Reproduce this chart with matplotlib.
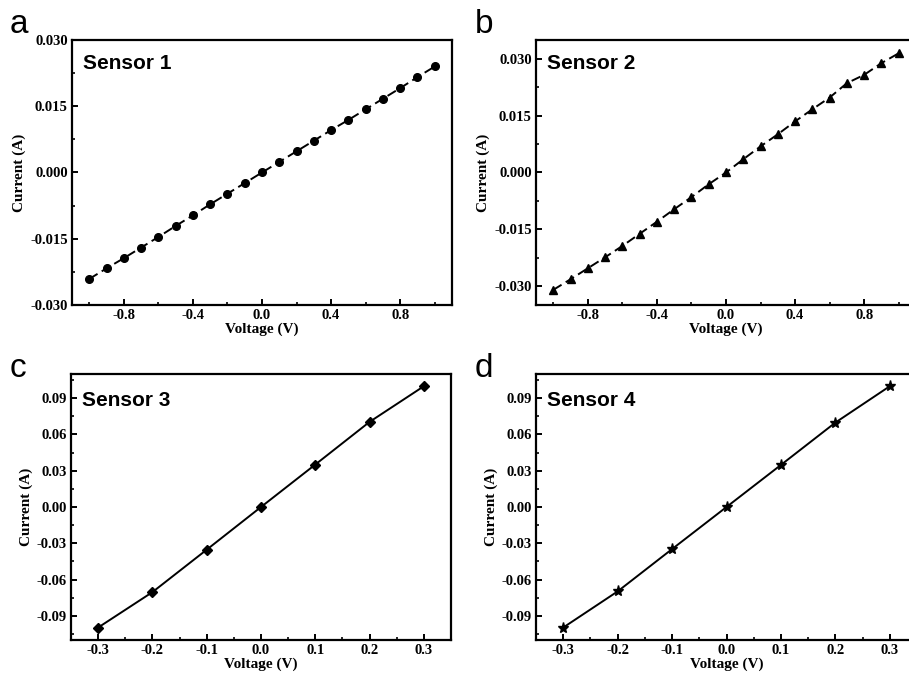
import matplotlib
matplotlib.use("Agg")
import matplotlib.pyplot as plt
from matplotlib.ticker import MultipleLocator, FormatStrFormatter

plt.rcParams['axes.unicode_minus'] = False

# ---- data ----
v_wide = [-1.0, -0.9, -0.8, -0.7, -0.6, -0.5, -0.4, -0.3, -0.2, -0.1, 0.0,
          0.1, 0.2, 0.3, 0.4, 0.5, 0.6, 0.7, 0.8, 0.9, 1.0]
i_sensor1 = [-0.0241, -0.0217, -0.0194, -0.0170, -0.0146, -0.0121, -0.0097,
             -0.0072, -0.0048, -0.0024, 0.0, 0.0024, 0.0048, 0.0072, 0.0096,
             0.0119, 0.0143, 0.0167, 0.0191, 0.0216, 0.0240]
i_sensor2 = [-0.0310, -0.0282, -0.0253, -0.0224, -0.0194, -0.0162, -0.0130,
             -0.0097, -0.0065, -0.0031, 0.0, 0.0035, 0.0069, 0.0101, 0.0135,
             0.0167, 0.0198, 0.0236, 0.0258, 0.0289, 0.0315]
v_narrow = [-0.3, -0.2, -0.1, 0.0, 0.1, 0.2, 0.3]
i_sensor3 = [-0.0997, -0.0704, -0.0353, 0.0, 0.0351, 0.0704, 0.0999]
i_sensor4 = [-0.0997, -0.0698, -0.0348, 0.0, 0.0348, 0.0698, 0.0999]

panel_letters = ["a", "b", "c", "d"]
sensor_names = ["Sensor 1", "Sensor 2", "Sensor 3", "Sensor 4"]

W, H = 909, 677
fig = plt.figure(figsize=(W / 100, H / 100), dpi=100)

def rect(left, top, width, bottom):
    return [left / W, 1 - bottom / H, width / W, (bottom - top) / H]

serif = 'Liberation Serif'
sans = 'Liberation Sans'

panels = [
    dict(pos=rect(72, 40, 380, 305), x=v_wide, y=i_sensor1, marker='o', ms=5.5,
         ls=(0, (5, 2.5)), xlim=(-1.1, 1.1), ylim=(-0.03, 0.03),
         xmaj=0.4, xmin=0.2, ymaj=0.015, ymin=0.0075, yfmt='%.3f', xfmt='%.1f'),
    dict(pos=rect(536, 40, 380, 305), x=v_wide, y=i_sensor2, marker='^', ms=6,
         ls=(0, (5, 2.5)), xlim=(-1.1, 1.1), ylim=(-0.035, 0.035),
         xmaj=0.4, xmin=0.2, ymaj=0.015, ymin=0.0075, yfmt='%.3f', xfmt='%.1f'),
    dict(pos=rect(71, 374, 380, 640), x=v_narrow, y=i_sensor3, marker='D', ms=5,
         ls='-', xlim=(-0.35, 0.35), ylim=(-0.11, 0.11),
         xmaj=0.1, xmin=0.05, ymaj=0.03, ymin=0.015, yfmt='%.2f', xfmt='%.1f'),
    dict(pos=rect(536, 374, 381, 640), x=v_narrow, y=i_sensor4, marker='*', ms=8,
         ls='-', xlim=(-0.35, 0.35), ylim=(-0.11, 0.11),
         xmaj=0.1, xmin=0.05, ymaj=0.03, ymin=0.015, yfmt='%.2f', xfmt='%.1f'),
]

letter_pos = [(10, 33), (475, 33), (10, 377), (475, 377)]

for k, p in enumerate(panels):
    ax = fig.add_axes(p['pos'])
    ax.plot(p['x'], p['y'], color='black', linestyle=p['ls'], linewidth=1.4,
            marker=p['marker'], markersize=p['ms'], markerfacecolor='black',
            markeredgecolor='black', clip_on=False)
    ax.set_xlim(*p['xlim'])
    ax.set_ylim(*p['ylim'])
    ax.xaxis.set_major_locator(MultipleLocator(p['xmaj']))
    ax.xaxis.set_minor_locator(MultipleLocator(p['xmin']))
    ax.yaxis.set_major_locator(MultipleLocator(p['ymaj']))
    ax.yaxis.set_minor_locator(MultipleLocator(p['ymin']))
    ax.xaxis.set_major_formatter(FormatStrFormatter(p['xfmt']))
    ax.yaxis.set_major_formatter(FormatStrFormatter(p['yfmt']))
    for s in ax.spines.values():
        s.set_linewidth(1.6)
    ax.tick_params(which='major', direction='in', length=4, width=1.4,
                   labelsize=10.5, pad=3)
    ax.tick_params(which='minor', direction='in', length=2.5, width=1.2)
    for lab in ax.get_xticklabels() + ax.get_yticklabels():
        lab.set_fontfamily(serif)
        lab.set_fontweight('bold')
    ax.set_xlabel('Voltage (V)', fontfamily=serif, fontweight='bold',
                  fontsize=11, labelpad=0)
    ax.set_ylabel('Current (A)', fontfamily=serif, fontweight='bold',
                  fontsize=11, labelpad=3)
    ax.text(0.03, 0.91 if k < 2 else 0.9, sensor_names[k], transform=ax.transAxes,
            fontfamily=sans, fontweight='bold', fontsize=15,
            ha='left', va='center')
    lx, ly = letter_pos[k]
    fig.text(lx / W, 1 - ly / H, panel_letters[k], fontfamily=sans,
             fontsize=24, ha='left', va='baseline')

fig.savefig('out.png', dpi=100)
